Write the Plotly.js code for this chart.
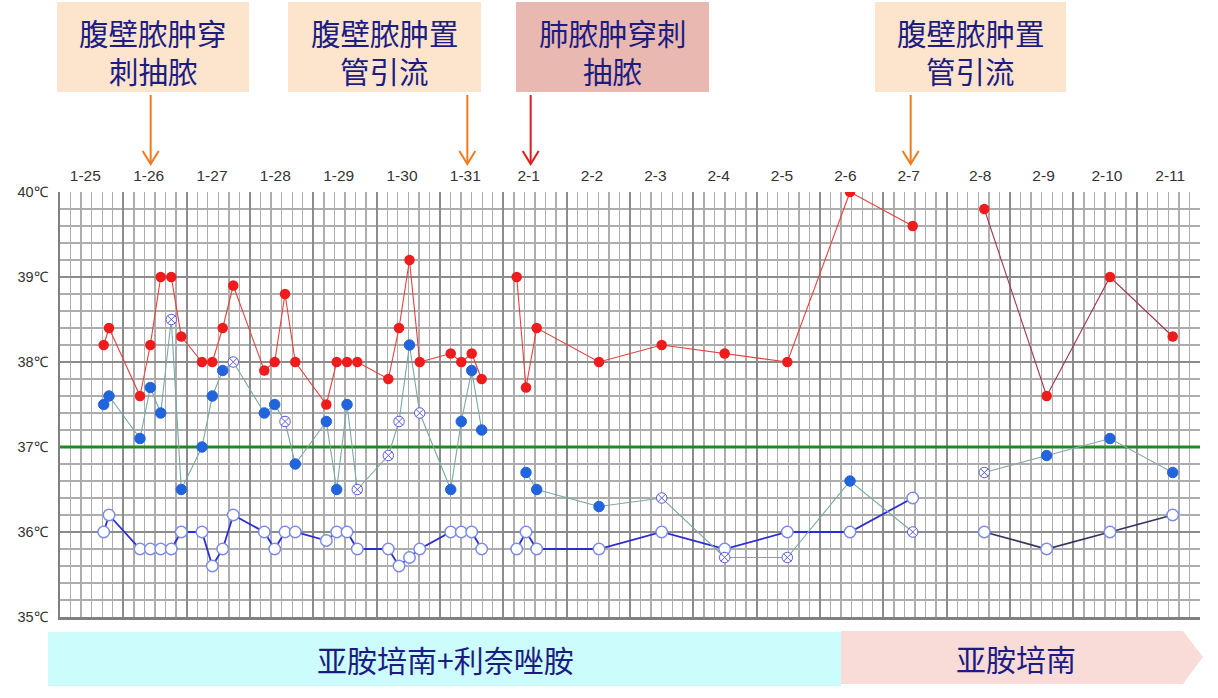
<!DOCTYPE html>
<html><head><meta charset="utf-8">
<script src="https://cdn.plot.ly/plotly-3.0.1.min.js"></script>
<style>html,body{margin:0;padding:0;background:#fff}#chart{width:1218px;height:698px}</style>
</head><body><div id="chart"></div>
<script>
// ---------- data ----------
const dayLabels = ['1-25','1-26','1-27','1-28','1-29','1-30','1-31','2-1','2-2','2-3','2-4','2-5','2-6','2-7','2-8','2-9','2-10','2-11'];

// reading times, in days counted from 1-25 00:00, per chart section
const timesA = [0.69,0.774,1.263,1.426,1.59,1.757,1.915,2.242,2.405,2.569,2.736,3.226,3.39,3.553,3.715,4.205,4.369,4.532,4.694,5.184,5.353,5.518,5.68,6.169,6.336,6.501,6.658];
const timesB = [7.211,7.358,7.527,8.511,9.501,10.495,11.484,12.474,13.464];
const timesC = [14.594,15.579,16.579,17.569];

// red series (°C)
const redA = [38.2,38.4,37.6,38.2,39.0,39.0,38.3,38.0,38.0,38.4,38.9,37.9,38.0,38.8,38.0,37.5,38.0,38.0,38.0,37.8,38.4,39.2,38.0,38.1,38.0,38.1,37.8];
const redB = [39.0,37.7,38.4,38.0,38.2,38.1,38.0,40.0,39.6];
const redC = [39.8,37.6,39.0,38.3];

// blue series (°C) and which readings are drawn as crossed circles
const blueA = [37.5,37.6,37.1,37.7,37.4,38.5,36.5,37.0,37.6,37.9,38.0,37.4,37.5,37.3,36.8,37.3,36.5,37.5,36.5,36.9,37.3,38.2,37.4,36.5,37.3,37.9,37.2];
const blueB = [null,36.7,36.5,36.3,36.4,35.7,35.7,36.6,36.0];
const blueC = [36.7,36.9,37.1,36.7];
const crossedA = [0,0,0,0,0,1,0,0,0,0,1,0,0,1,0,0,0,0,1,1,1,0,1,0,0,0,0];
const crossedB = [0,0,0,0,1,1,1,0,1];
const crossedC = [1,0,0,0];

// hollow-circle series (°C)
const lowA = [36.0,36.2,35.8,35.8,35.8,35.8,36.0,36.0,35.6,35.8,36.2,36.0,35.8,36.0,36.0,35.9,36.0,36.0,35.8,35.8,35.6,35.7,35.8,36.0,36.0,36.0,35.8];
const lowB = [35.8,36.0,35.8,35.8,36.0,35.8,36.0,36.0,36.4];
const lowC = [36.0,35.8,36.0,36.2];

const procedures = [['腹壁脓肿穿','刺抽脓'],['腹壁脓肿置','管引流'],['肺脓肿穿刺','抽脓'],['腹壁脓肿置','管引流']];
const procedureDay = ['1-26','1-31','2-1','2-7'];
const drugs = ['亚胺培南+利奈唑胺','亚胺培南'];
const normalTemp = 37;

// ---------- layout helpers ----------
const W=1218,H=698,L=60,R=1200,T=192,B=617;
const px = x => (x-L)/(R-L);
const py = y => (B-y)/(B-T);
const CJK = '"Noto Sans CJK SC", "Noto Sans", sans-serif';

const traces = [];
const sections = [
  {t:timesA, red:redA, blue:blueA, cross:crossedA, low:lowA, redLine:'#e4403a', lowLine:'#2c2cd2', blueLine:'#7aa8a2'},
  {t:timesB, red:redB, blue:blueB, cross:crossedB, low:lowB, redLine:'#e4403a', lowLine:'#2c2cd2', blueLine:'#7aa8a2'},
  {t:timesC, red:redC, blue:blueC, cross:crossedC, low:lowC, redLine:'#a2364e', lowLine:'#34345e', blueLine:'#8aa6ac'}
];
sections.forEach(s=>{
  traces.push({x:s.t, y:s.low, mode:'lines+markers', hoverinfo:'skip',
    line:{color:s.lowLine, width:1.8},
    marker:{symbol:'circle', size:11.5, color:'#ffffff', line:{color:'#7c8ce6', width:1.5}}});
});
sections.forEach(s=>{
  traces.push({x:s.t, y:s.blue, mode:'lines+markers', hoverinfo:'skip', connectgaps:false,
    line:{color:s.blueLine, width:1.1},
    marker:{size:10.5,
      symbol:s.cross.map(c=>c?'circle-x':'circle'),
      color:s.cross.map(c=>c?'#ffffff':'#2264dc'),
      line:{color:s.cross.map(c=>c?'#5a5ad6':'#2264dc'), width:1}}});
});
sections.forEach(s=>{
  traces.push({x:s.t, y:s.red, mode:'lines+markers', hoverinfo:'skip',
    line:{color:s.redLine, width:1.1},
    marker:{symbol:'circle', size:10.5, color:'#ee1c1c', line:{width:0}}});
});
// carrier for the top date axis
traces.push({x:[0], y:[null], xaxis:'x2', yaxis:'y', mode:'markers', hoverinfo:'skip', showlegend:false});

const tickvals = dayLabels.map((d,i)=> i + (i<14 ? 0.4 : 0.53));

const shapes = [];
const annotations = [];

// normal-temperature line
shapes.push({type:'line', xref:'x', yref:'y', x0:0, x1:18, y0:normalTemp, y1:normalTemp,
  line:{color:'#238a23', width:3}, layer:'between'});

// procedure boxes and arrows
const boxX = [[57,249],[288,481],[516,709],[875,1066]];
const boxFill = ['#fde4cc','#fde4cc','#e9b8b0','#fde4cc'];
const arrowColor = ['#f07a1e','#f07a1e','#e01c1c','#f07a1e'];
const arrowX = procedureDay.map(d=>{const i=dayLabels.indexOf(d); return L + tickvals[i]*(R-L)/18 + 2;});
procedures.forEach((lines,i)=>{
  const [a,b]=boxX[i];
  shapes.push({type:'rect', xref:'paper', yref:'paper', x0:px(a), x1:px(b), y0:py(92), y1:py(2),
    fillcolor:boxFill[i], line:{width:0}});
  lines.forEach((txt,k)=>{
    annotations.push({xref:'paper', yref:'paper', x:px((a+b)/2), y:py(k===0?32:70), xanchor:'center', yanchor:'middle',
      text:txt, showarrow:false, font:{family:CJK, size:29.5, color:'#1c1c82'}});
  });
  const ax = arrowX[i];
  shapes.push({type:'line', xref:'paper', yref:'paper', x0:px(ax), x1:px(ax), y0:py(95), y1:py(163), line:{color:arrowColor[i], width:2}});
  shapes.push({type:'path', xref:'paper', yref:'paper',
    path:`M ${px(ax-8)},${py(151)} L ${px(ax)},${py(164)} L ${px(ax+8)},${py(151)}`,
    line:{color:arrowColor[i], width:2}});
});

// drug bars
shapes.push({type:'rect', xref:'paper', yref:'paper', x0:px(48), x1:px(841), y0:py(686), y1:py(632),
  fillcolor:'#ccfcfc', line:{width:0}});
shapes.push({type:'path', xref:'paper', yref:'paper',
  path:`M ${px(841)},${py(631)} L ${px(1183)},${py(631)} L ${px(1203)},${py(657)} L ${px(1183)},${py(684)} L ${px(841)},${py(684)} Z`,
  fillcolor:'#f9dcd8', line:{width:0}});
annotations.push({xref:'paper', yref:'paper', x:px(445), y:py(659), xanchor:'center', yanchor:'middle',
  text:drugs[0], showarrow:false, font:{family:CJK, size:30, color:'#1c1c82'}});
annotations.push({xref:'paper', yref:'paper', x:px(1016), y:py(658), xanchor:'center', yanchor:'middle',
  text:drugs[1], showarrow:false, font:{family:CJK, size:30, color:'#1c1c82'}});

const layout = {
  width:W, height:H, margin:{l:L, r:W-R, t:T, b:H-B, pad:0},
  paper_bgcolor:'#ffffff', plot_bgcolor:'#ffffff', showlegend:false,
  font:{family:'"Liberation Sans", Arial, sans-serif', color:'#333'},
  xaxis:{range:[0,18], tick0:0, dtick:1, showgrid:true, gridcolor:'#8c8c8c', gridwidth:2.2,
    showticklabels:false, ticks:'', zeroline:false, showline:true, linecolor:'#808080', linewidth:2.5,
    minor:{tick0:0, dtick:1/6, showgrid:true, gridcolor:'#adadad', gridwidth:1.3, ticks:''}, fixedrange:true},
  xaxis2:{overlaying:'x', side:'top', anchor:'y', range:[0,18], tickmode:'array', tickvals:tickvals, ticktext:dayLabels,
    showgrid:false, zeroline:false, showline:false, ticks:'', tickfont:{size:15.5, color:'#333'}, ticklabelstandoff:7},
  yaxis:{range:[35,40], tick0:35, dtick:1, ticksuffix:'℃', showgrid:true, gridcolor:'#8c8c8c', gridwidth:2.2,
    zeroline:false, showline:true, linecolor:'#808080', linewidth:2.5, ticks:'',
    minor:{tick0:35, dtick:0.2, showgrid:true, gridcolor:'#adadad', gridwidth:1.3, ticks:''},
    tickfont:{size:14.5, color:'#333'}, ticklabelstandoff:7, fixedrange:true},
  shapes:shapes, annotations:annotations
};

Plotly.newPlot('chart', traces, layout, {staticPlot:true, displayModeBar:false});
</script>
</body></html>
